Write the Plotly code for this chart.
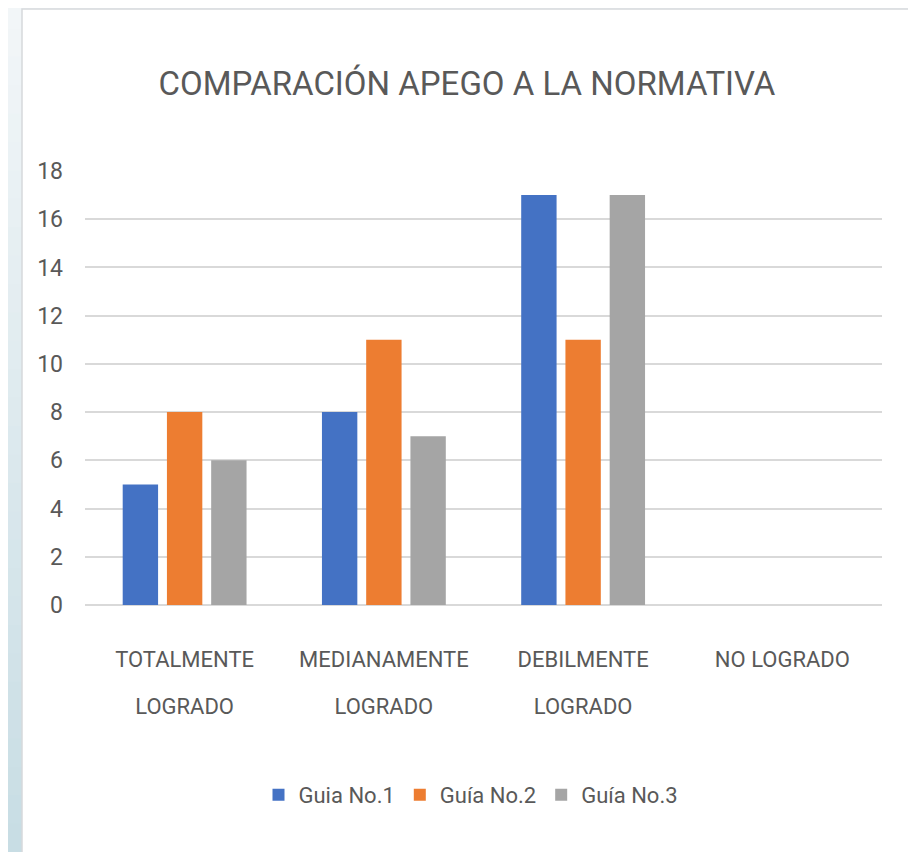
import plotly.graph_objects as go

# data
categories = ["TOTALMENTE LOGRADO", "MEDIANAMENTE LOGRADO", "DEBILMENTE LOGRADO", "NO LOGRADO"]
cat_line1 = ["TOTALMENTE", "MEDIANAMENTE", "DEBILMENTE", "NO LOGRADO"]
cat_line2 = ["LOGRADO", "LOGRADO", "LOGRADO", ""]
guia1 = [5, 8, 17, 0]
guia2 = [8, 11, 11, 0]
guia3 = [6, 7, 17, 0]
series_names = ["Guia No.1", "Guía No.2", "Guía No.3"]
colors = ["#4472C4", "#ED7D31", "#A5A5A5"]

W, H = 916, 852
OFF = 8  # page body margin
# plot area in page pixels: x 85..882, y 171..605
L, R, T = 85 - OFF, W - (882 - OFF), 171 - OFF
B = H - (605 - OFF)
pw, ph = W - L - R, H - T - B

def px_x(x):
    return (x - OFF - L) / pw

def px_y(y):
    return (H - B - (y - OFF)) / ph

FONT = "Roboto, sans-serif"
GREY = "#595959"

fig = go.Figure()
for name, vals, col in zip(series_names, [guia1, guia2, guia3], colors):
    fig.add_trace(go.Bar(x=categories, y=vals, name=name, marker_color=col,
                         marker_line_width=0))
# helper trace so the second label axis is drawn
fig.add_trace(go.Scatter(x=categories, y=[None] * len(categories), xaxis="x2",
                         showlegend=False, hoverinfo="skip", mode="markers"))

# background gradient + white card
shapes = []
n = 30
c0 = (242, 246, 248)
c1 = (200, 221, 228)
for i in range(n):
    t = i / (n - 1)
    c = tuple(round(a + (b - a) * t) for a, b in zip(c0, c1))
    shapes.append(dict(type="rect", xref="paper", yref="paper", layer="below",
                       x0=px_x(0), x1=px_x(W + 20), y0=px_y(H * (i + 1) / n + 2), y1=px_y(H * i / n),
                       fillcolor="rgb(%d,%d,%d)" % c, line_width=0))
shapes.append(dict(type="rect", xref="paper", yref="paper", layer="below",
                   x0=px_x(22), x1=px_x(911), y0=px_y(H + 20), y1=px_y(9),
                   fillcolor="white", line=dict(color="#d6d9db", width=1.5)))

fig.update_layout(
    width=W, height=H,
    margin=dict(l=L, r=R, t=T, b=B),
    paper_bgcolor="#eef3f5", plot_bgcolor="rgba(0,0,0,0)",
    shapes=shapes,
    font=dict(family=FONT, color=GREY),
    title=dict(text="COMPARACIÓN APEGO A LA NORMATIVA", x=px_x(467), xref="paper",
               y=1 - (83 - OFF) / H, yref="container", xanchor="center", yanchor="middle",
               font=dict(size=33, color=GREY, family=FONT)),
    barmode="group", bargap=0.334, bargroupgap=0.2,
    yaxis=dict(range=[0, 18], dtick=2, showgrid=True, gridcolor="#d9d9d9", gridwidth=1.5,
               zeroline=True, zerolinecolor="#d9d9d9", zerolinewidth=1.5,
               showline=False, ticks="", tickfont=dict(size=23, color=GREY),
               ticklabelstandoff=21),
    xaxis=dict(type="category", categoryarray=categories, range=[-0.5, 3.5],
               tickvals=categories, ticktext=cat_line1, ticks="", showline=False,
               tickfont=dict(size=22, color=GREY), ticklabelstandoff=39),
    xaxis2=dict(type="category", overlaying="x", anchor="y", side="bottom",
                categoryarray=categories, range=[-0.5, 3.5],
                tickvals=categories, ticktext=cat_line2, ticks="", showline=False,
                showgrid=False, zeroline=False,
                tickfont=dict(size=22, color=GREY), ticklabelstandoff=86),
    legend=dict(orientation="h", x=px_x(471), xanchor="center", y=px_y(795),
                yanchor="middle", font=dict(size=22, color=GREY), itemwidth=30,
                bgcolor="rgba(0,0,0,0)"),
)

fig.write_html("out.html")
